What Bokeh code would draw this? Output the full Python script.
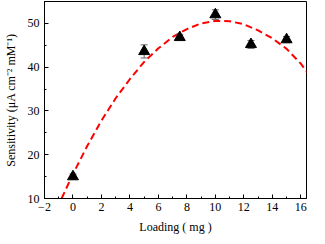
from bokeh.plotting import figure
from bokeh.models import SingleIntervalTicker, Range1d, ColumnDataSource
from bokeh.embed import file_html
from bokeh.resources import INLINE

# measured data
loading = [0, 5, 7.5, 10, 12.5, 15]
sensitivity = [15.0, 43.6, 46.8, 52.0, 45.2, 46.3]
err = [0.6, 1.5, 0.6, 1.1, 0.9, 0.7]

# fitted curve
fit_x = [-0.8, 0, 1, 2, 3, 4, 5, 6, 7, 8, 9, 10, 11, 12, 13, 14, 15, 16, 16.5]
fit_y = [10.0, 15.6, 22.0, 27.8, 32.9, 37.3, 41.2, 44.3, 46.9, 48.7, 50.0,
         50.55, 50.5, 49.8, 48.4, 46.6, 44.2, 40.8, 38.6]

FONT = "Liberation Serif"

p = figure(width=317, height=236, output_backend="svg", toolbar_location=None,
           x_range=Range1d(-2, 16.4), y_range=Range1d(10, 55),
           min_border_left=33, min_border_right=11, min_border_top=1,
           min_border_bottom=37)
p.grid.visible = False
p.outline_line_color = "black"
p.outline_line_width = 1
p.background_fill_color = "white"

p.xaxis.ticker = SingleIntervalTicker(interval=2, num_minor_ticks=2)
p.yaxis.ticker = SingleIntervalTicker(interval=10, num_minor_ticks=2)
for ax in (p.xaxis, p.yaxis):
    ax.major_tick_in = 4
    ax.major_tick_out = 0
    ax.minor_tick_in = 2
    ax.minor_tick_out = 0
    ax.axis_line_color = "black"
    ax.major_tick_line_color = "black"
    ax.minor_tick_line_color = "black"
    ax.major_label_text_font = FONT
    ax.major_label_text_font_size = "12px"
    ax.major_label_text_color = "black"
    ax.axis_label_text_font = FONT
    ax.axis_label_text_font_size = "12px"
    ax.axis_label_text_font_style = "normal"
    ax.axis_label_text_color = "black"
p.xaxis.axis_label = "Loading ( mg )"
p.yaxis.axis_label = "Sensitivity (\u03bcA cm\u207b\u00b2 mM\u207b\u00b9)"
p.xaxis.major_label_standoff = 4
p.yaxis.major_label_standoff = 5
p.xaxis.axis_label_standoff = 6
p.yaxis.axis_label_standoff = 7

p.line(fit_x, fit_y, line_color="#ff0000", line_width=2, line_dash="7 4")

src = ColumnDataSource(dict(
    x=loading, y=sensitivity,
    lo=[s - e for s, e in zip(sensitivity, err)],
    hi=[s + e for s, e in zip(sensitivity, err)],
    xl=[x - 0.25 for x in loading], xr=[x + 0.25 for x in loading]))
p.segment(x0="x", y0="lo", x1="x", y1="hi", source=src, line_color="#666666", line_width=1)
p.segment(x0="xl", y0="lo", x1="xr", y1="lo", source=src, line_color="#666666", line_width=1)
p.segment(x0="xl", y0="hi", x1="xr", y1="hi", source=src, line_color="#666666", line_width=1)
p.scatter(x="x", y="y", source=src, marker="triangle", size=11,
          fill_color="black", line_color="black")

open("out.html", "w").write(file_html(p, INLINE))
